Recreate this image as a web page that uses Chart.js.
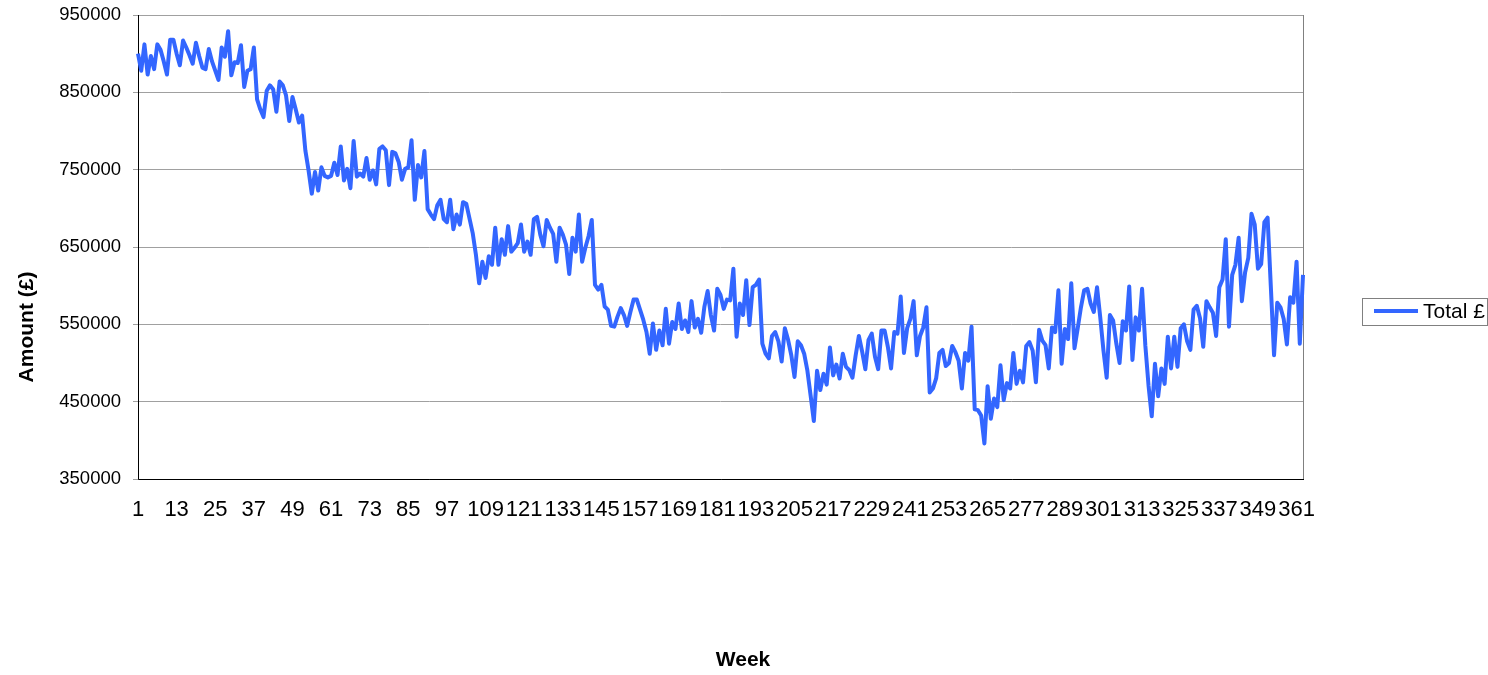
<!DOCTYPE html>
<html lang="en">
<head>
<meta charset="utf-8">
<script src="https://cdn.jsdelivr.net/npm/chart.js"></script>
<style>
  html, body { margin: 0; padding: 0; background: #fff; }
</style>
</head>
<body>
<canvas id="myChart" width="1488" height="675"></canvas>
<script>
// weekly totals (weeks 1..363)
const amounts = [
  900000, 878000, 912000, 873000, 897000, 880000, 912000, 905000, 890000, 873000,
  918000, 918000, 900000, 885000, 917000, 908000, 898000, 887000, 914000, 897000,
  882000, 880000, 906000, 890000, 878000, 866000, 908000, 896000, 929000, 872000,
  889000, 888000, 911000, 857000, 878000, 880000, 908000, 841000, 828000, 818000,
  852000, 859000, 854000, 825000, 864000, 859000, 846000, 813000, 844000, 828000,
  811000, 820000, 775000, 749000, 719000, 747000, 723000, 753000, 742000, 740000,
  742000, 759000, 743000, 780000, 736000, 751000, 726000, 787000, 741000, 745000,
  741000, 765000, 737000, 749000, 731000, 777000, 780000, 775000, 730000, 773000,
  771000, 760000, 737000, 751000, 753000, 788000, 711000, 756000, 740000, 774000,
  699000, 692000, 686000, 704000, 711000, 686000, 682000, 711000, 673000, 692000,
  679000, 708000, 706000, 687000, 668000, 640000, 603000, 631000, 610000, 638000,
  627000, 675000, 627000, 660000, 640000, 677000, 644000, 649000, 655000, 679000,
  644000, 657000, 640000, 686000, 689000, 666000, 651000, 685000, 675000, 667000,
  631000, 675000, 666000, 653000, 615000, 662000, 644000, 692000, 631000, 649000,
  664000, 685000, 601000, 595000, 601000, 573000, 569000, 548000, 547000, 560000,
  571000, 562000, 548000, 566000, 582000, 582000, 569000, 556000, 540000, 512000,
  551000, 517000, 542000, 523000, 570000, 525000, 553000, 544000, 577000, 544000,
  555000, 540000, 580000, 546000, 557000, 539000, 573000, 593000, 562000, 542000,
  596000, 588000, 570000, 582000, 581000, 622000, 534000, 577000, 562000, 607000,
  549000, 598000, 601000, 608000, 525000, 512000, 506000, 535000, 540000, 528000,
  502000, 545000, 530000, 510000, 482000, 528000, 523000, 512000, 490000, 458000,
  425000, 490000, 465000, 486000, 472000, 520000, 484000, 498000, 480000, 512000,
  495000, 491000, 481000, 510000, 535000, 515000, 492000, 530000, 538000, 508000,
  492000, 542000, 542000, 521000, 493000, 540000, 538000, 586000, 513000, 545000,
  557000, 580000, 510000, 535000, 546000, 572000, 462000, 467000, 480000, 513000,
  517000, 496000, 500000, 522000, 514000, 503000, 467000, 513000, 503000, 547000,
  440000, 439000, 432000, 396000, 470000, 428000, 454000, 443000, 497000, 452000,
  474000, 467000, 513000, 473000, 490000, 475000, 522000, 527000, 516000, 475000,
  543000, 529000, 523000, 493000, 546000, 540000, 594000, 499000, 544000, 531000,
  603000, 519000, 545000, 572000, 594000, 596000, 577000, 566000, 598000, 559000,
  516000, 481000, 562000, 555000, 525000, 500000, 554000, 542000, 599000, 504000,
  559000, 542000, 596000, 523000, 471000, 431000, 499000, 457000, 493000, 473000,
  534000, 493000, 534000, 495000, 545000, 550000, 528000, 517000, 569000, 574000,
  558000, 521000, 580000, 572000, 565000, 535000, 598000, 608000, 660000, 547000,
  614000, 627000, 662000, 580000, 617000, 636000, 693000, 679000, 622000, 628000,
  682000, 688000, 599000, 510000, 578000, 572000, 557000, 524000, 585000, 578000,
  631000, 525000, 614000
]
const weeks = amounts.map((v, i) => i + 1)
const labelEvery = 12
const yMin = 350000
const yMax = 950000
const yStep = 100000
const seriesName = "Total £"
const xTitle = "Week"
const yTitle = "Amount (£)"

const FONT = "'Liberation Sans', Arial, sans-serif"
const BLUE = "#3366ff"

// frame, axis titles and the little legend box, Excel style
const excelBits = {
  id: "excelBits",
  beforeDatasetsDraw(chart) {
    const { ctx, chartArea: a } = chart
    ctx.save()
    ctx.lineWidth = 1
    ctx.strokeStyle = "#a0a0a0"
    ctx.beginPath()
    ctx.moveTo(a.left, a.top + 0.5)
    ctx.lineTo(a.right, a.top + 0.5)
    ctx.stroke()
    ctx.strokeStyle = "#808080"
    ctx.beginPath()
    ctx.moveTo(a.right + 0.5, a.top)
    ctx.lineTo(a.right + 0.5, a.bottom)
    ctx.stroke()
    ctx.strokeStyle = "#000"
    ctx.beginPath()
    ctx.moveTo(a.left + 0.5, a.top)
    ctx.lineTo(a.left + 0.5, a.bottom + 0.5)
    ctx.lineTo(a.right + 1, a.bottom + 0.5)
    ctx.stroke()
    ctx.restore()
  },
  afterDraw(chart) {
    const ctx = chart.ctx
    ctx.save()
    ctx.fillStyle = "#000"
    ctx.font = "bold 21px " + FONT
    ctx.textAlign = "center"
    ctx.textBaseline = "middle"
    ctx.fillText(xTitle, 743, 660)
    ctx.translate(27, 327)
    ctx.rotate(-Math.PI / 2)
    ctx.fillText(yTitle, 0, 0)
    ctx.restore()

    // legend
    ctx.save()
    ctx.strokeStyle = "#808080"
    ctx.lineWidth = 1
    ctx.strokeRect(1362.5, 298.5, 125, 27)
    ctx.strokeStyle = BLUE
    ctx.lineWidth = 4
    ctx.beginPath()
    ctx.moveTo(1374, 311)
    ctx.lineTo(1418, 311)
    ctx.stroke()
    ctx.fillStyle = "#000"
    ctx.font = "21px " + FONT
    ctx.textAlign = "left"
    ctx.textBaseline = "middle"
    ctx.fillText(seriesName, 1423, 312)
    ctx.restore()
  },
}

const ctx = document.getElementById("myChart")
new Chart(ctx, {
  type: "line",
  data: {
    labels: weeks,
    datasets: [
      {
        label: seriesName,
        data: amounts,
        borderColor: BLUE,
        backgroundColor: BLUE,
        borderWidth: 4,
        pointRadius: 0,
        tension: 0,
        borderJoinStyle: "round",
      },
    ],
  },
  options: {
    responsive: false,
    animation: false,
    layout: { padding: { top: 15, right: 185, left: 0, bottom: 0 } },
    plugins: { legend: { display: false }, tooltip: { enabled: false } },
    scales: {
      x: {
        offset: false,
        grid: { display: false },
        border: { display: false },
        ticks: {
          autoSkip: false,
          maxRotation: 0,
          minRotation: 0,
          padding: 10,
          color: "#000",
          font: { family: FONT, size: 22 },
          callback: (v, i) => (i % labelEvery === 0 ? weeks[i] : ""),
        },
        afterFit: (s) => {
          s.height = 196
          s.paddingLeft = 0
          s.paddingRight = 0
        },
      },
      y: {
        min: yMin,
        max: yMax,
        grid: { color: "#a0a0a0", tickLength: 5 },
        border: { display: false },
        ticks: {
          stepSize: yStep,
          padding: 12,
          color: "#000",
          font: { family: FONT, size: 18.5 },
          callback: (v) => String(v),
        },
        afterFit: (s) => {
          s.width = 138
          s.paddingTop = 0
          s.paddingBottom = 0
        },
      },
    },
  },
  plugins: [excelBits],
})
</script>
</body>
</html>
